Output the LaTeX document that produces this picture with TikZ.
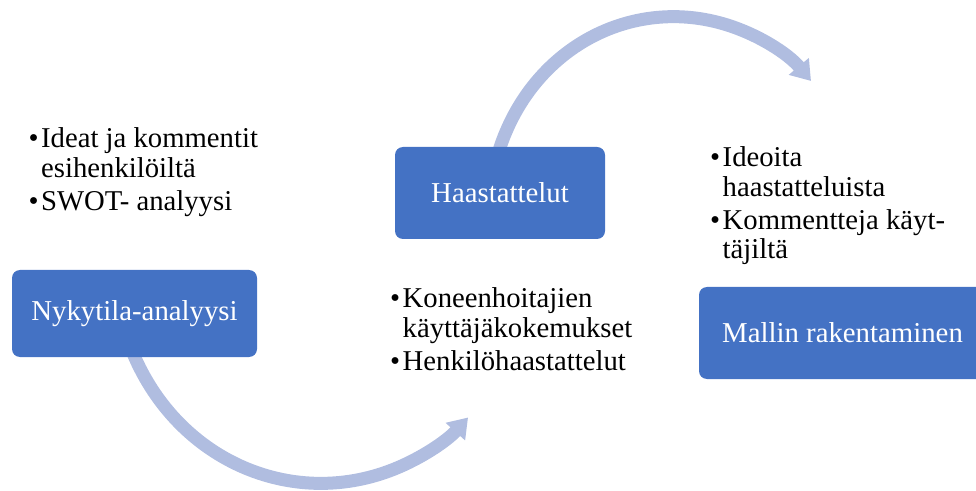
\documentclass[tikz,border=0pt]{standalone}
\usepackage{fontspec}
\setmainfont{Liberation Serif}
\usetikzlibrary{arrows.meta,backgrounds}
\definecolor{boxblue}{HTML}{4472C4}
\definecolor{flowblue}{RGB}{176,189,224}
% one bullet line and one continuation line of a note list
\newcommand\bl{\makebox[12.5pt][l]{\textbullet}}
\newcommand\cl{\hspace*{12.5pt}}

\begin{document}
\begin{tikzpicture}[x=1pt,y=1pt,
  stage/.style={fill=boxblue, rounded corners=8pt, text=white, inner sep=0pt,
    font=\fontsize{28.8}{30}\selectfont},
  flow/.style={draw=flowblue, line width=13pt, shorten <=-10pt,
    -{Triangle[length=19pt,width=25pt]}},
  notes/.style={anchor=base west, inner sep=0pt,
    font=\fontsize{28.7}{29.5}\selectfont}]
\useasboundingbox (0,0) rectangle (976,490);

% process stages
\node[stage, minimum width=245pt, minimum height=87pt] (nyky) at (134.5,176.5) {Nykytila-analyysi};
\node[stage, minimum width=210pt, minimum height=92pt] (haast) at (500,297) {Haastattelut};
\node[stage, minimum width=287pt, minimum height=92pt] (malli) at (842.5,157) {Mallin rakentaminen};

% curved arrows between the stages, kept behind the boxes
\begin{pgfonlayer}{background}
\draw[flow] (nyky.south) arc[start angle=201.5, end angle=318, radius=199.3pt];
\draw[flow] (haast.north) arc[start angle=163.9, end angle=40, radius=180.1pt];
\end{pgfonlayer}

% notes beside each stage
\node[notes] (notesA) at (28.5,342) {\parbox[t]{320pt}{%
  \bl Ideat ja kommentit\\
  \cl esihenkilöiltä\\[3.5pt]
  \bl SWOT- analyysi}};
\node[notes] (notesB) at (390,182) {\parbox[t]{320pt}{%
  \bl Koneenhoitajien\\
  \cl käyttäjäkokemukset\\[3.5pt]
  \bl Henkilöhaastattelut}};
\node[notes] (notesC) at (710,323) {\parbox[t]{320pt}{%
  \bl Ideoita\\
  \cl haastatteluista\\[3.5pt]
  \bl Kommentteja käyt-\\
  \cl täjiltä}};
\end{tikzpicture}
\end{document}
